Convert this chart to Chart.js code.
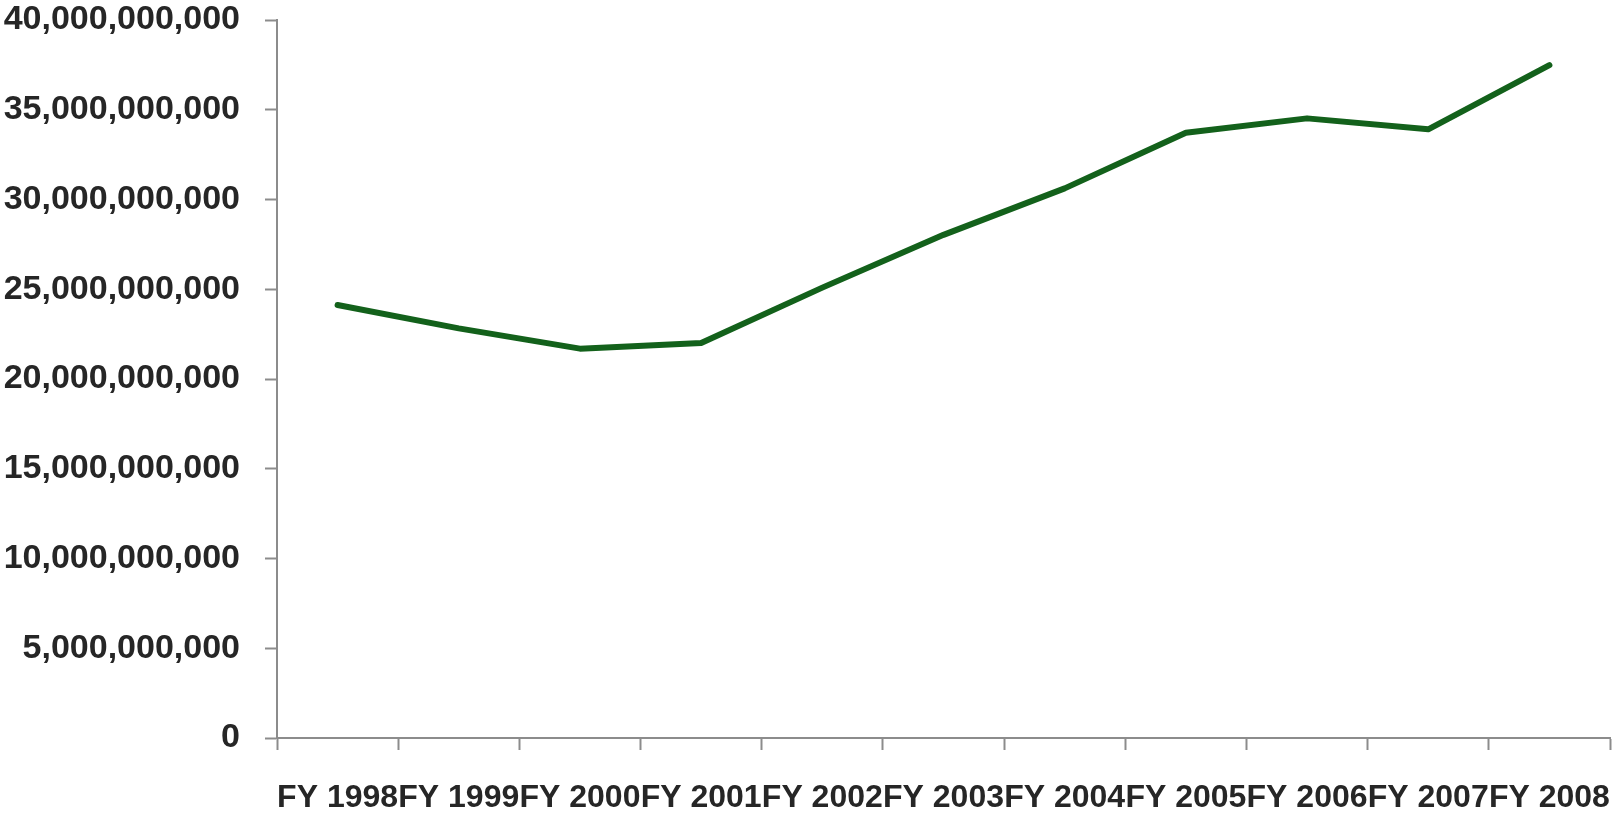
<!DOCTYPE html>
<html lang="en">
<head>
    <meta charset="UTF-8">
    <title>FY 1998 - FY 2008</title>
    <script src="https://cdn.jsdelivr.net/npm/chart.js"></script>
    <style>
        html, body { margin: 0; padding: 0; background: #fff; }
        #wrap { width: 1613px; height: 814px; }
    </style>
</head>
<body>
    <div id="wrap"><canvas id="lineChart"></canvas></div>

    <script>
        // Data
        const years = ['FY 1998', 'FY 1999', 'FY 2000', 'FY 2001', 'FY 2002', 'FY 2003',
                       'FY 2004', 'FY 2005', 'FY 2006', 'FY 2007', 'FY 2008'];
        const amounts = [24.12e9, 22.82e9, 21.69e9, 22.0e9, 25.09e9, 28.03e9,
                         30.62e9, 33.72e9, 34.52e9, 33.91e9, 37.49e9];
        const yMin = 0;
        const yMax = 40e9;
        const yStep = 5e9;

        const axisGray = '#8c8c8c';
        const textColor = '#262626';
        const fontFamily = '"Liberation Sans", Arial, sans-serif';

        const ctx = document.getElementById('lineChart').getContext('2d');
        const chart = new Chart(ctx, {
            type: 'line',
            data: {
                labels: years,
                datasets: [{
                    data: amounts,
                    borderColor: '#13611b',
                    borderWidth: 6,
                    pointRadius: 0,
                    borderCapStyle: 'round',
                    borderJoinStyle: 'round',
                    tension: 0,
                    fill: false
                }]
            },
            options: {
                responsive: true,
                maintainAspectRatio: false,
                animation: false,
                layout: { padding: 0 },
                plugins: {
                    legend: { display: false },
                    tooltip: { enabled: false }
                },
                scales: {
                    x: {
                        offset: true,
                        grid: {
                            offset: true,
                            drawOnChartArea: false,
                            drawTicks: true,
                            tickLength: 12,
                            tickWidth: 2,
                            tickColor: axisGray
                        },
                        border: { color: axisGray, width: 2 },
                        ticks: {
                            color: textColor,
                            font: { family: fontFamily, size: 32, weight: 'bold' },
                            autoSkip: false,
                            maxRotation: 0,
                            minRotation: 0,
                            padding: 29
                        },
                        afterFit: (scale) => {
                            scale.height = 76;
                            scale.paddingLeft = 0;
                            scale.paddingRight = 3;
                        }
                    },
                    y: {
                        min: yMin,
                        max: yMax,
                        grid: {
                            drawOnChartArea: false,
                            drawTicks: true,
                            tickLength: 12,
                            tickWidth: 2,
                            tickColor: axisGray
                        },
                        border: { color: axisGray, width: 2 },
                        ticks: {
                            stepSize: yStep,
                            color: textColor,
                            font: { family: fontFamily, size: 34, weight: 'bold' },
                            padding: 25,
                            callback: (v) => Number(v).toLocaleString('en-US')
                        },
                        afterFit: (scale) => {
                            scale.width = 277;
                            scale.paddingTop = 20;
                            scale.paddingBottom = 0;
                        }
                    }
                }
            }
        });
    </script>
</body>
</html>
